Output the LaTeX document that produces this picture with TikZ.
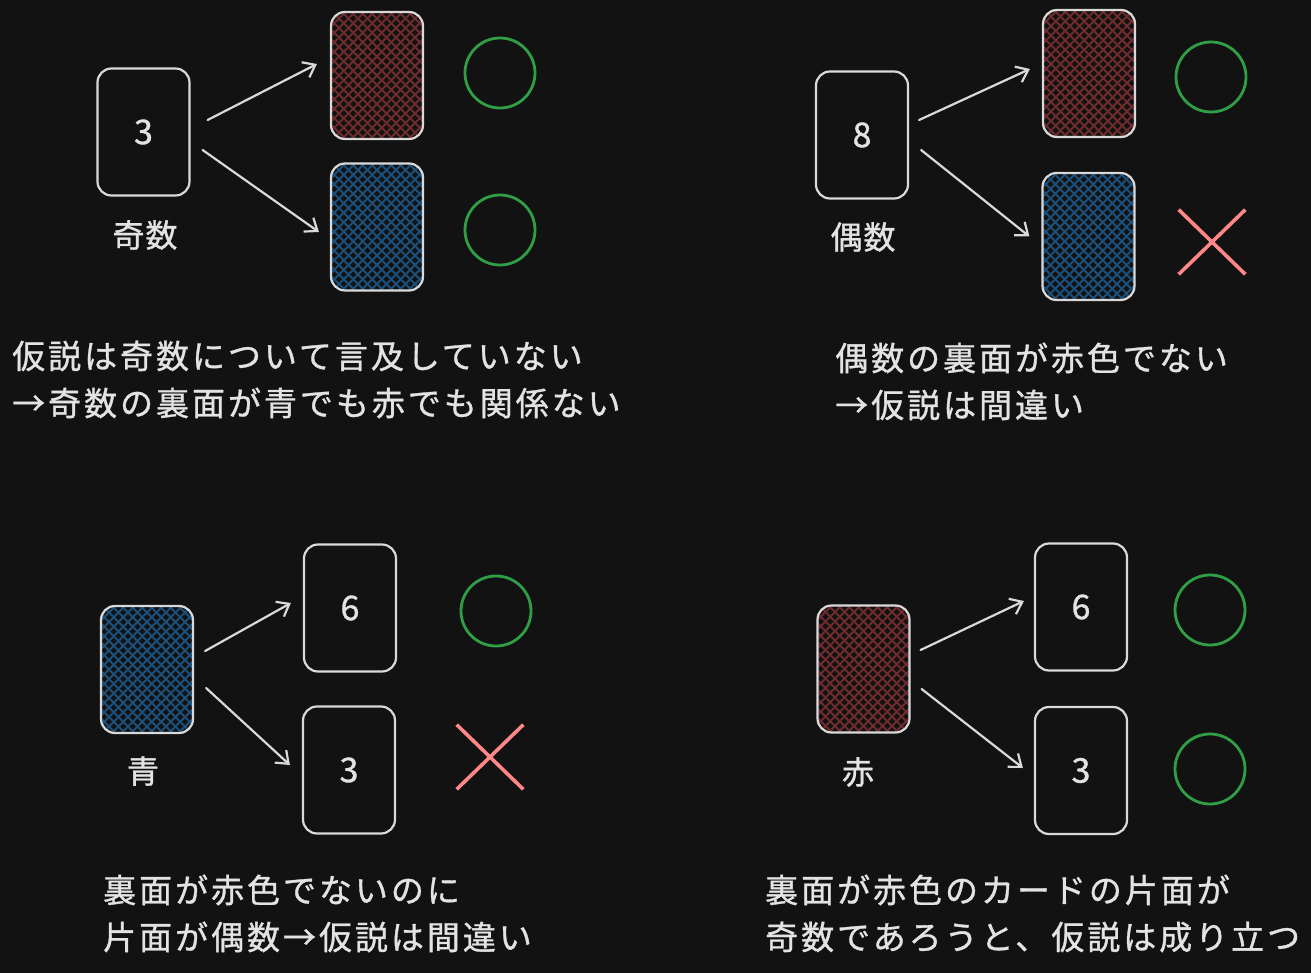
\documentclass[tikz,border=0pt]{standalone}
\usepackage{fontspec}
\setmainfont{Noto Sans CJK JP}[FakeBold=1]
\usetikzlibrary{arrows.meta,shapes.misc}
\definecolor{bg}{HTML}{121212}
\definecolor{txt}{HTML}{E3E3E3}
\definecolor{cardline}{HTML}{D9D9D9}
\definecolor{hred}{HTML}{6E2C2E}
\definecolor{hblue}{HTML}{1B4F7C}
\definecolor{okgreen}{HTML}{2F9E44}
\definecolor{ngred}{HTML}{FF8787}
\tikzset{
  card/.style={draw=cardline, line width=2.2pt, rounded corners=14pt, minimum width=92pt, minimum height=127pt, inner sep=0pt, text=txt, font=\fontsize{34}{34}\selectfont},
  hatch/.style={path picture={
    \foreach \d in {-228,-218.5,...,228}{
      \draw[#1, line width=1.8pt] ([shift={(\d-150,-150)}]path picture bounding box.center) -- ++(300,300);
      \draw[#1, line width=1.8pt] ([shift={(\d-150,150)}]path picture bounding box.center) -- ++(300,-300);
    }}},
  ok/.style={draw=okgreen, line width=2.8pt, circle, minimum size=70pt, inner sep=0pt},
  ng/.style={draw=ngred, line width=3.6pt, cross out, minimum width=63pt, minimum height=61pt, inner sep=0pt},
  arr/.style={draw=cardline, line width=2.2pt, line cap=round, -{Straight Barb[length=11pt,width=17pt,line width=2.2pt]}},
  lbl/.style={text=txt, font=\fontsize{32}{32}\selectfont\addfontfeature{LetterSpace=3}},
  para/.style={text=txt, anchor=west, inner sep=0pt, font=\fontsize{33}{33}\selectfont\addfontfeature{LetterSpace=9}},
}
\begin{document}
\begin{tikzpicture}[x=1pt,y=-1pt]
\fill[bg] (0,0) rectangle (1311,973);
\useasboundingbox (0,0) rectangle (1311,973);

% top-left
\node[card] (c1) at (143.5,132) {3};
\node[lbl] (l1) at (145,235) {奇数};
\node[card, hatch=hred] (r1) at (377,75.5) {};
\node[card, hatch=hblue] (b1) at (377,227) {};
\node[ok] (o1) at (500,73) {};
\node[ok] (o2) at (500,230) {};
\draw[arr] ([shift={(17,-12)}]c1.east) -- ([shift={(-13,-11.5)}]r1.west);
\draw[arr] ([shift={(12,18)}]c1.east) -- ([shift={(-11,5)}]b1.west);
\node[para] (t1) at (12,356) {仮説は奇数について言及していない};
\node[para] (t2) at (12,403) {→奇数の裏面が青でも赤でも関係ない};

% top-right
\node[card] (c2) at (862,135) {8};
\node[lbl] (l2) at (863,237) {偶数};
\node[card, hatch=hred] (r2) at (1089,73.5) {};
\node[card, hatch=hblue] (b2) at (1088.5,236.5) {};
\node[ok] (o3) at (1211,77) {};
\node[ng] (x1) at (1212,242) {};
\draw[arr] ([shift={(10,-15)}]c2.east) -- ([shift={(-12,-4.5)}]r2.west);
\draw[arr] ([shift={(12,15)}]c2.east) -- ([shift={(-12,0)}]b2.west);
\node[para] (t3) at (835,358) {偶数の裏面が赤色でない};
\node[para] (t4) at (835,405) {→仮説は間違い};

% bottom-left
\node[card, hatch=hblue] (b3) at (147,669.5) {};
\node[lbl] (l3) at (143,771) {青};
\node[card] (c3) at (350,608) {6};
\node[card] (c4) at (349,770) {3};
\node[ok] (o4) at (496,611) {};
\node[ng] (x2) at (490,757) {};
\draw[arr] ([shift={(11,-18.5)}]b3.east) -- ([shift={(-12,-5)}]c3.west);
\draw[arr] ([shift={(12,18.5)}]b3.east) -- ([shift={(-12,-5)}]c4.west);
\node[para] (t5) at (103,890) {裏面が赤色でないのに};
\node[para] (t6) at (103,937) {片面が偶数→仮説は間違い};

% bottom-right
\node[card, hatch=hred] (r4) at (863.5,669) {};
\node[lbl] (l4) at (858,772) {赤};
\node[card] (c5) at (1081,607) {6};
\node[card] (c6) at (1081,770.5) {3};
\node[ok] (o5) at (1210,610) {};
\node[ok] (o6) at (1210,769) {};
\draw[arr] ([shift={(10,-19)}]r4.east) -- ([shift={(-10,-6)}]c5.west);
\draw[arr] ([shift={(11,20)}]r4.east) -- ([shift={(-11,-2.5)}]c6.west);
\node[para] (t7) at (765,890) {裏面が赤色のカードの片面が};
\node[para] (t8) at (765,937) {奇数であろうと、仮説は成り立つ};
\end{tikzpicture}
\end{document}
